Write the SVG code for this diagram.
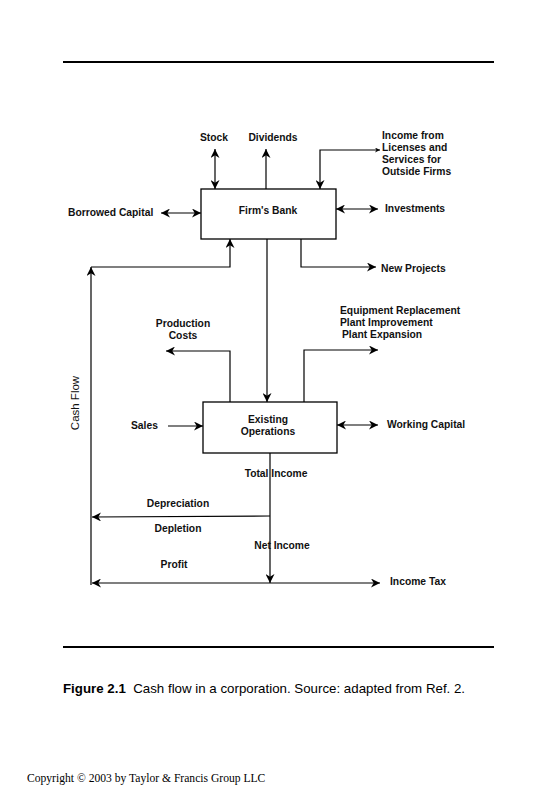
<svg xmlns="http://www.w3.org/2000/svg" width="558" height="800" viewBox="0 0 558 800">
<defs>
<style>
.l{fill:none;stroke:#000;stroke-width:1.2}
.t{font-family:"Liberation Sans",Arial,sans-serif;font-weight:bold;font-size:10.3px;fill:#111}
.box{fill:#fff;stroke:#000;stroke-width:1.3}
.rule{stroke:#000;stroke-width:2}
</style>
<marker id="ah" viewBox="0 0 10 10" refX="10" refY="5" markerWidth="9" markerHeight="9" markerUnits="userSpaceOnUse" orient="auto-start-reverse">
<path d="M0,0 L10,5 L0,10 L3,5 Z" fill="#000"/>
</marker>
<marker id="sm" viewBox="0 0 10 10" refX="10" refY="5" markerWidth="5" markerHeight="5" markerUnits="userSpaceOnUse" orient="auto-start-reverse">
<path d="M0,0 L10,5 L0,10 L3,5 Z" fill="#000"/>
</marker>
</defs>
<rect width="558" height="800" fill="#fff"/>
<line class="rule" x1="63" y1="62" x2="494" y2="62"/>
<line class="rule" x1="63" y1="647" x2="494" y2="647"/>

<g id="connectors">
<line class="l" x1="215" y1="149" x2="215" y2="189" marker-start="url(#ah)" marker-end="url(#ah)"/>
<line class="l" x1="266" y1="189" x2="266" y2="149" marker-end="url(#ah)"/>
<polyline class="l" points="380,150 320,150 320,189" marker-start="url(#sm)" marker-end="url(#ah)"/>
<line class="l" x1="161" y1="213" x2="201" y2="213" marker-start="url(#ah)" marker-end="url(#ah)"/>
<line class="l" x1="336" y1="209" x2="378" y2="209" marker-start="url(#ah)" marker-end="url(#ah)"/>
<polyline class="l" points="91,267 230,267 230,239" marker-end="url(#ah)"/>
<line class="l" x1="91" y1="585" x2="91" y2="267" marker-end="url(#ah)"/>
<polyline class="l" points="301,239 301,267 376,267" marker-end="url(#ah)"/>
<line class="l" x1="267" y1="239" x2="267" y2="402" marker-end="url(#ah)"/>
<polyline class="l" points="230,402 230,351 166,351" marker-end="url(#ah)"/>
<polyline class="l" points="304,402 304,350 378,350" marker-end="url(#ah)"/>
<line class="l" x1="168" y1="426" x2="203" y2="426" marker-end="url(#ah)"/>
<line class="l" x1="337" y1="425" x2="378" y2="425" marker-start="url(#ah)" marker-end="url(#ah)"/>
<line class="l" x1="270" y1="453" x2="270" y2="583" marker-end="url(#ah)"/>
<polyline class="l" points="270,516 92,517" marker-end="url(#ah)"/>
<line class="l" x1="92" y1="583" x2="380" y2="583" marker-start="url(#ah)" marker-end="url(#ah)"/>
</g>

<g id="firms-bank">
<rect class="box" x="201" y="189" width="135" height="50"/>
<text class="t" x="268" y="214" text-anchor="middle">Firm's Bank</text>
</g>
<g id="existing-operations">
<rect class="box" x="203" y="402" width="134" height="51"/>
<text class="t" x="268" y="423" text-anchor="middle">Existing</text>
<text class="t" x="268" y="435" text-anchor="middle">Operations</text>
</g>

<g id="labels">
<text class="t" x="214" y="141" text-anchor="middle">Stock</text>
<text class="t" x="273" y="141" text-anchor="middle">Dividends</text>
<text class="t" x="382" y="139">Income from</text>
<text class="t" x="382" y="151">Licenses and</text>
<text class="t" x="382" y="163">Services for</text>
<text class="t" x="382" y="175">Outside Firms</text>
<text class="t" x="68" y="216">Borrowed Capital</text>
<text class="t" x="385" y="212">Investments</text>
<text class="t" x="381" y="272">New Projects</text>
<text class="t" x="183" y="327" text-anchor="middle">Production</text>
<text class="t" x="183" y="339" text-anchor="middle">Costs</text>
<text class="t" x="340" y="314">Equipment Replacement</text>
<text class="t" x="340" y="326">Plant Improvement</text>
<text class="t" x="342" y="338">Plant Expansion</text>
<text class="t" x="131" y="429">Sales</text>
<text class="t" x="387" y="428">Working Capital</text>
<text x="79" y="403" text-anchor="middle" transform="rotate(-90 79 403)" font-family="'Liberation Sans',Arial,sans-serif" font-size="11.5" fill="#111">Cash Flow</text>
<text class="t" x="276" y="477" text-anchor="middle">Total Income</text>
<text class="t" x="178" y="507" text-anchor="middle">Depreciation</text>
<text class="t" x="178" y="532" text-anchor="middle">Depletion</text>
<text class="t" x="282" y="549" text-anchor="middle">Net Income</text>
<text class="t" x="174" y="568" text-anchor="middle">Profit</text>
<text class="t" x="390" y="585">Income Tax</text>
</g>

<text x="63" y="693" xml:space="preserve" font-family="'Liberation Sans',Arial,sans-serif" font-size="13.3" fill="#000"><tspan font-weight="bold">Figure 2.1</tspan>  Cash flow in a corporation. Source: adapted from Ref. 2.</text>
<text x="27" y="782" font-family="'Liberation Serif','Times New Roman',serif" font-size="11.6" fill="#000">Copyright © 2003 by Taylor &amp; Francis Group LLC</text>
</svg>
